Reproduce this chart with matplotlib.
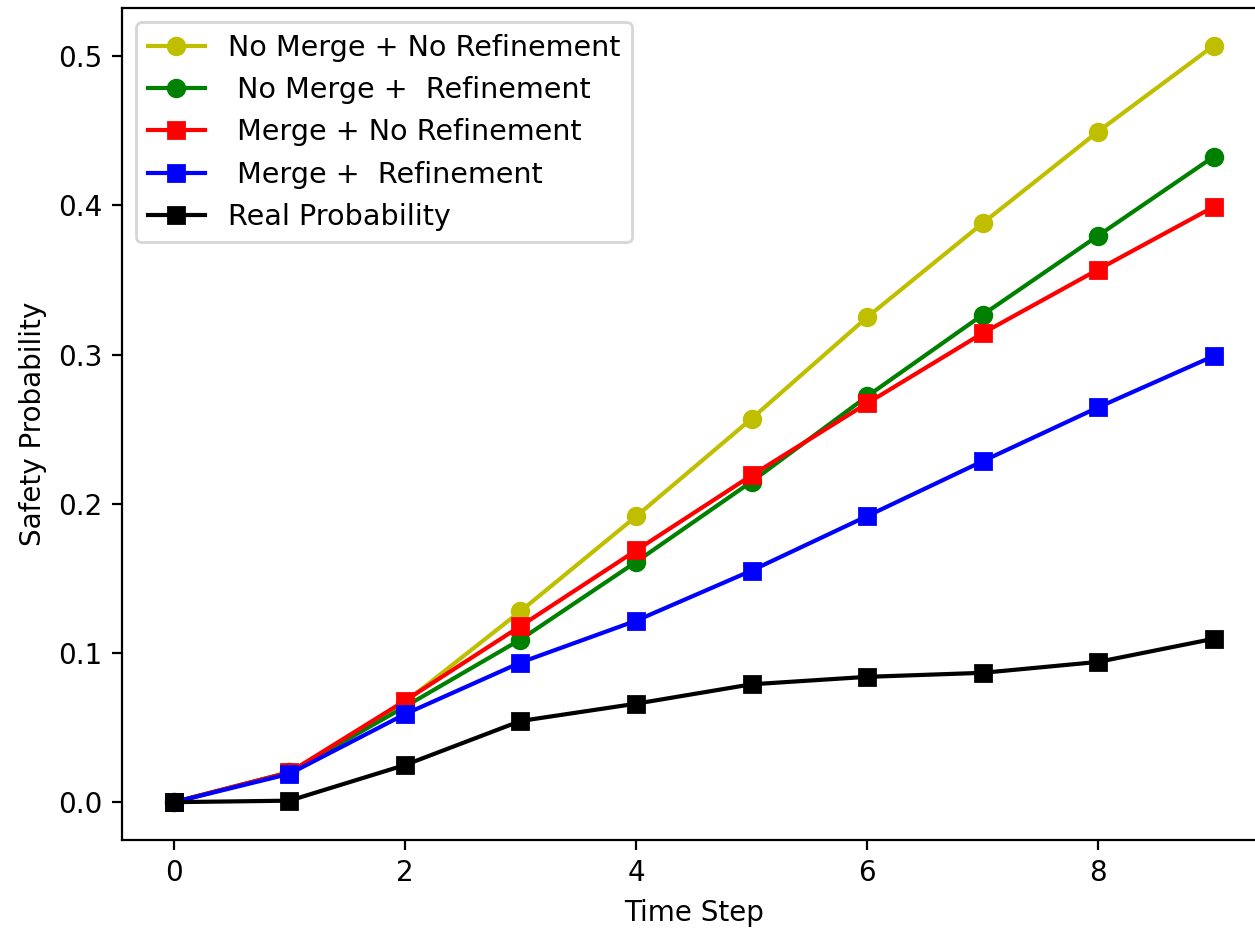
import matplotlib
matplotlib.use("Agg")
import matplotlib.pyplot as plt

time_steps = [0, 1, 2, 3, 4, 5, 6, 7, 8, 9]
no_merge_no_ref = [0.0, 0.020, 0.067, 0.128, 0.1915, 0.257, 0.325, 0.388, 0.4495, 0.507]
no_merge_ref = [0.0, 0.020, 0.064, 0.109, 0.161, 0.2148, 0.272, 0.3266, 0.3797, 0.4326]
merge_no_ref = [0.0, 0.020, 0.068, 0.118, 0.1687, 0.219, 0.2673, 0.3143, 0.357, 0.399]
merge_ref = [0.0, 0.019, 0.059, 0.0936, 0.1216, 0.1552, 0.1917, 0.2285, 0.2646, 0.299]
real_prob = [0.0, 0.001, 0.0249, 0.0544, 0.066, 0.079, 0.084, 0.0867, 0.094, 0.1095]

labels = ["No Merge + No Refinement", " No Merge +  Refinement",
          " Merge + No Refinement", " Merge +  Refinement", "Real Probability"]

fig = plt.figure(figsize=(6.275, 4.65), dpi=200)
ax = fig.add_axes([122 / 1255, 0.0968, 1143.5 / 1255, 0.8946])

ax.plot(time_steps, no_merge_no_ref, color='y', marker='o', label=labels[0])
ax.plot(time_steps, no_merge_ref, color='g', marker='o', label=labels[1])
ax.plot(time_steps, merge_no_ref, color='r', marker='s', label=labels[2])
ax.plot(time_steps, merge_ref, color='b', marker='s', label=labels[3])
ax.plot(time_steps, real_prob, color='k', marker='s', label=labels[4])

ax.set_xlabel("Time Step")
ax.set_ylabel("Safety Probability")
ax.legend(loc='upper left', fontsize=10.3)

fig.savefig("out.png", dpi=200)
